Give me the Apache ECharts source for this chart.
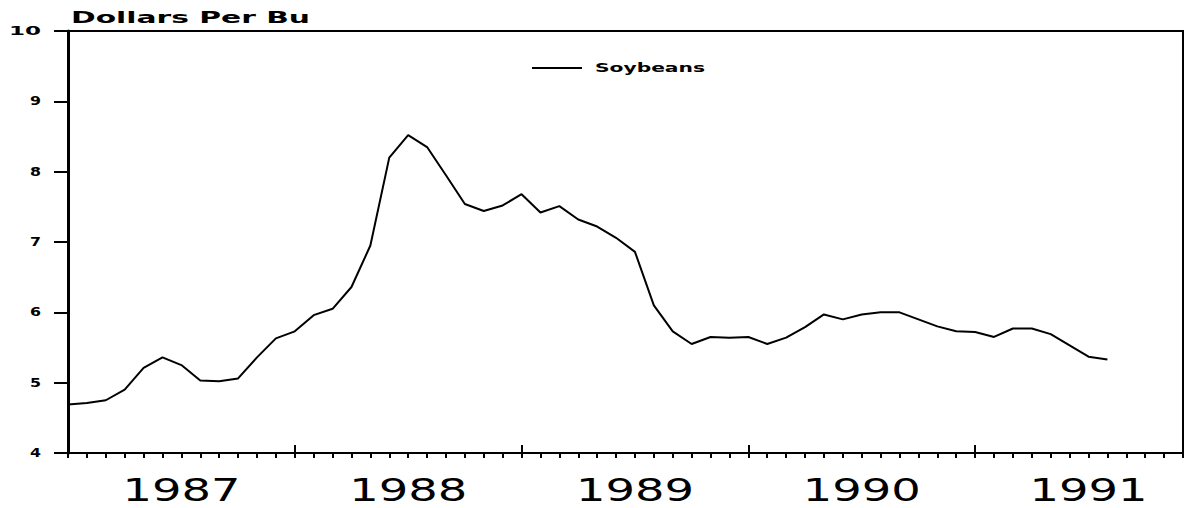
<!DOCTYPE html>
<html>
<head>
<meta charset="utf-8">
<title>Soybeans</title>
<script src="https://cdn.jsdelivr.net/npm/echarts@6/dist/echarts.min.js"></script>
<style>
    html, body { margin: 0; padding: 0; background: #fff; }
    #chart { width: 1186px; height: 508px; }
</style>
</head>
<body>
<div id="chart"></div>
<script>
// 月度价格, 1987年1月起
var startYear = 1987;
var soybeans = [
    4.69, 4.71, 4.75, 4.90, 5.21, 5.36, 5.25, 5.03, 5.02, 5.06, 5.36, 5.63, // 1987
    5.73, 5.96, 6.05, 6.36, 6.95, 8.20, 8.52, 8.35, 7.95, 7.54, 7.44, 7.52, // 1988
    7.68, 7.42, 7.51, 7.32, 7.22, 7.06, 6.86, 6.10, 5.73, 5.55, 5.65, 5.64, // 1989
    5.65, 5.55, 5.64, 5.79, 5.97, 5.90, 5.97, 6.00, 6.00, 5.90, 5.80, 5.73, // 1990
    5.72, 5.65, 5.77, 5.77, 5.69, 5.53, 5.37, 5.33 // 1991
];
var yearLabels = ['1987', '1988', '1989', '1990', '1991'];
var monthsShown = 59; // 轴到1991年12月初

// 宽字体效果: 把文字拉伸到原图宽度
var textWidths = { 'Dollars Per Bu': 239, 'Soybeans': 110, '10': 32 };

var seriesData = soybeans.map(function (v, i) {
    return [i, v];
});

var chart = echarts.init(document.getElementById('chart'), null, { renderer: 'svg' });

function stretchTexts() {
    var texts = document.querySelectorAll('#chart text');
    for (var i = 0; i < texts.length; i++) {
        var t = texts[i];
        var s = t.textContent;
        var w = textWidths[s];
        if (!w && /^\d{4}$/.test(s)) w = 118;
        if (!w && /^\d$/.test(s)) w = 11;
        if (w) {
            t.setAttribute('textLength', w);
            t.setAttribute('lengthAdjust', 'spacingAndGlyphs');
        }
    }
}
chart.on('finished', stretchTexts);

chart.setOption({
    animation: false,
    title: {
        text: 'Dollars Per Bu',
        left: 66,
        top: 5,
        textStyle: {
            fontFamily: 'DejaVu Sans',
            fontWeight: 'bold',
            fontSize: 15,
            color: '#000',
        },
    },
    legend: {
        left: 527,
        top: 57,
        icon: 'rect',
        itemWidth: 50,
        itemHeight: 2,
        textStyle: {
            fontFamily: 'DejaVu Sans',
            fontWeight: 'bold',
            fontSize: 12,
            color: '#000',
            padding: [0, 0, 0, 8],
        },
        data: ['Soybeans'],
    },
    grid: {
        left: 68,
        right: 3,
        top: 31,
        bottom: 55,
        show: true,
        borderColor: '#000',
        borderWidth: 2,
    },
    xAxis: [
        {
            // 月刻度
            type: 'value',
            min: 0,
            max: monthsShown,
            interval: 1,
            axisLine: { lineStyle: { color: '#000', width: 2 } },
            axisTick: { length: 5, lineStyle: { color: '#000', width: 2 } },
            axisLabel: { show: false },
            splitLine: { show: false },
        },
        {
            // 年刻度
            type: 'value',
            min: 0,
            max: monthsShown,
            interval: 12,
            position: 'bottom',
            axisLine: { show: false },
            axisTick: { inside: true, length: 8, lineStyle: { color: '#000', width: 2 } },
            axisLabel: { show: false },
            splitLine: { show: false },
        },
        {
            // 年份标签放在年中
            type: 'value',
            min: 0,
            max: monthsShown,
            interval: 6,
            position: 'bottom',
            axisLine: { show: false },
            axisTick: { show: false },
            splitLine: { show: false },
            axisLabel: {
                margin: 21,
                fontFamily: 'DejaVu Sans',
                fontSize: 32,
                color: '#000',
                showMinLabel: false,
                showMaxLabel: false,
                formatter: function (v) {
                    return v % 12 === 6 ? yearLabels[(v - 6) / 12] : '';
                },
            },
        },
    ],
    yAxis: {
        type: 'value',
        min: 4,
        max: 10,
        interval: 1,
        axisLine: { show: true, lineStyle: { color: '#000', width: 3 } },
        axisTick: { show: true, length: 14, lineStyle: { color: '#000', width: 2 } },
        axisLabel: {
            margin: 27,
            fontFamily: 'DejaVu Sans',
            fontWeight: 'bold',
            fontSize: 12,
            color: '#000',
        },
        splitLine: { show: false },
    },
    series: [
        {
            name: 'Soybeans',
            type: 'line',
            xAxisIndex: 0,
            data: seriesData,
            symbol: 'none',
            lineStyle: { color: '#000', width: 2 },
            itemStyle: { color: '#000' },
        },
    ],
});

stretchTexts();
setTimeout(stretchTexts, 0);
setTimeout(stretchTexts, 200);
</script>
</body>
</html>
